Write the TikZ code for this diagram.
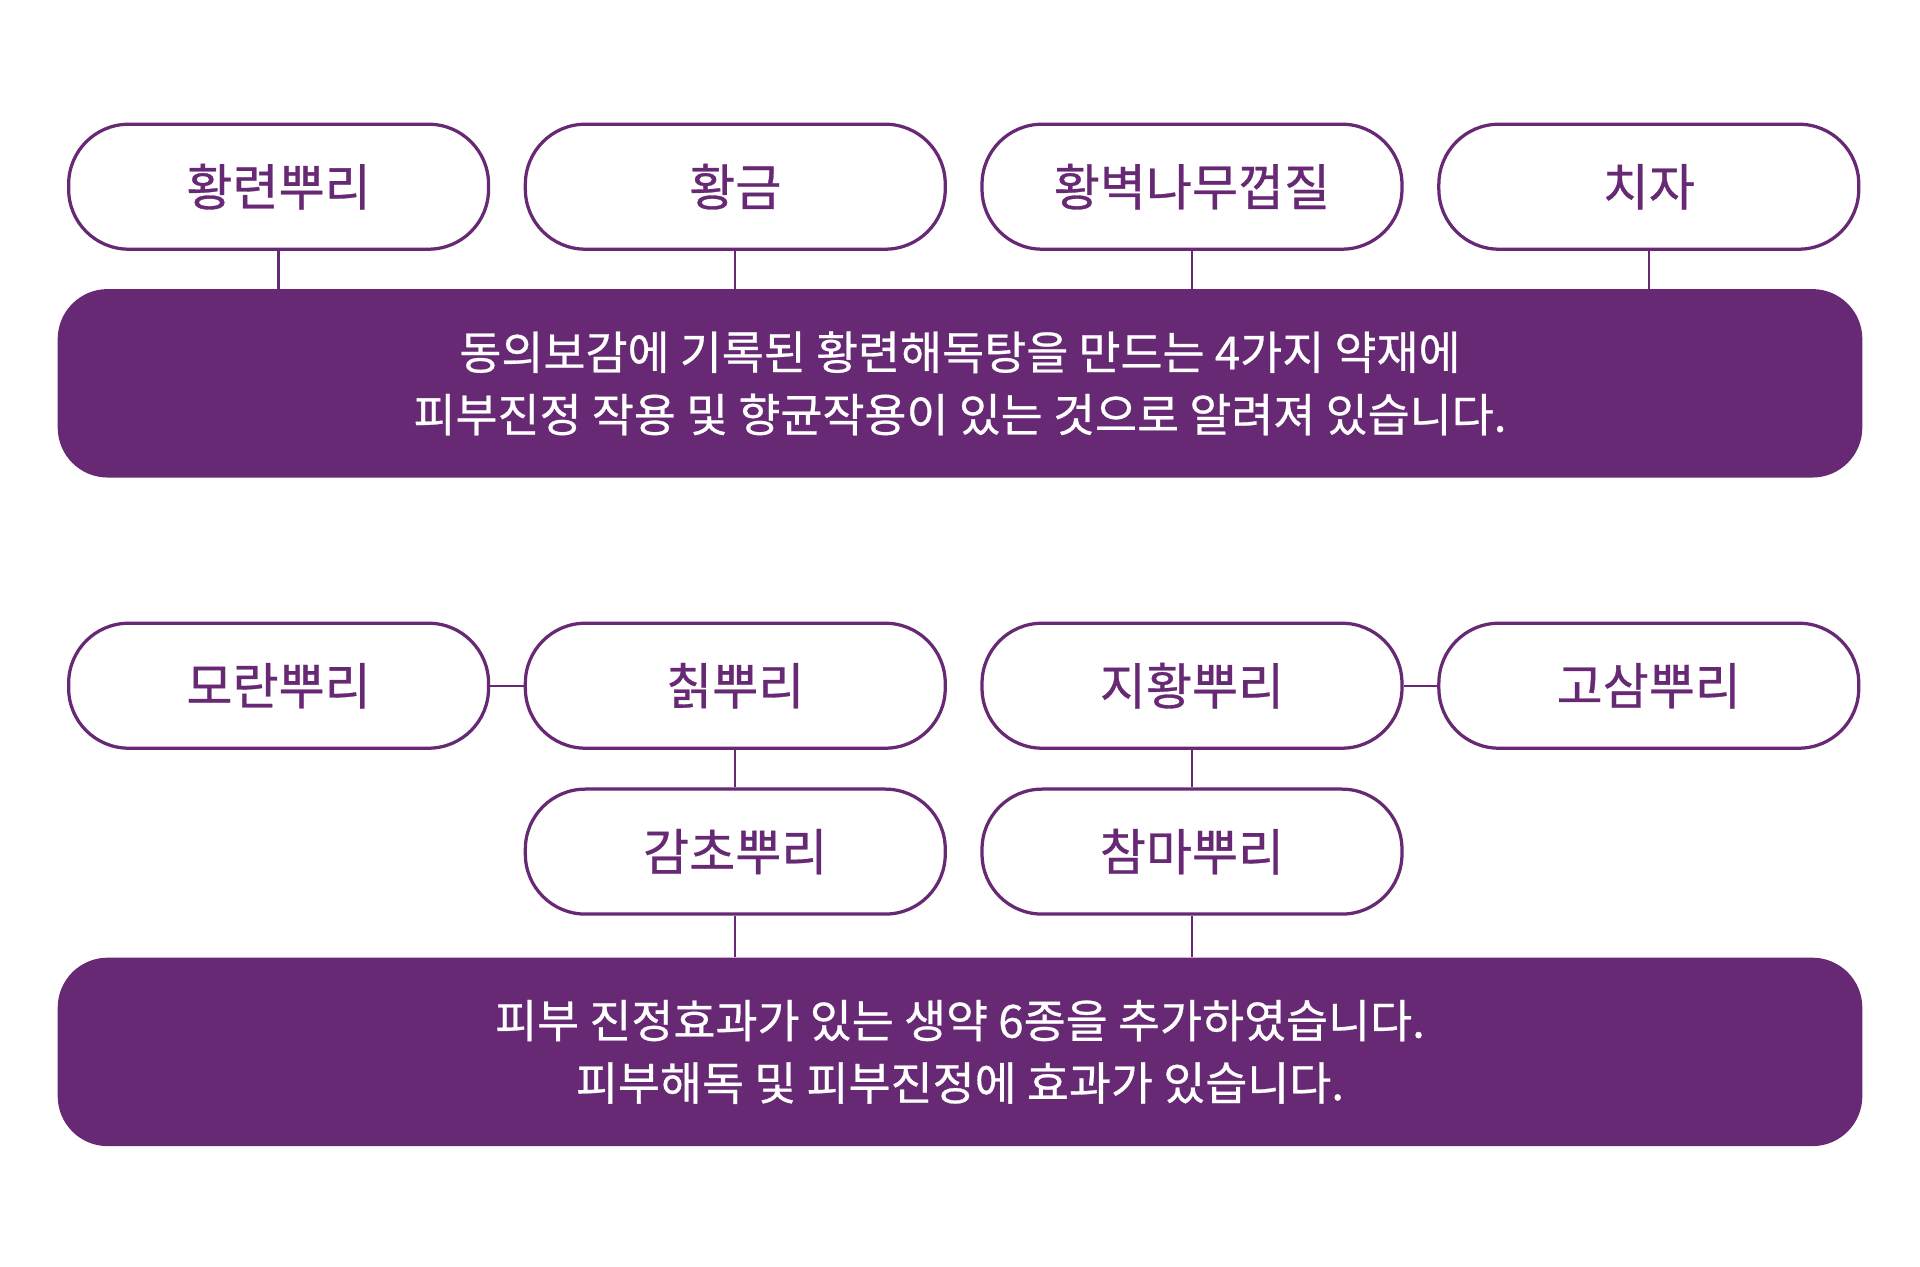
\documentclass[tikz,border=0pt]{standalone}
\usepackage{fontspec}
\setmainfont{Noto Sans CJK KR}[FakeBold=0.6]
\usetikzlibrary{positioning}
\definecolor{herbpurple}{RGB}{103,40,116}

\begin{document}
\begin{tikzpicture}[x=0.02cm,y=-0.02cm,
  herb/.style={draw=herbpurple,line width=0.065cm,fill=white,text=herbpurple,
    minimum width=8.4cm,minimum height=2.5cm,rounded corners=1.2cm,
    font=\fontsize{28.5}{32}\selectfont},
  summary/.style={fill=herbpurple,text=white,minimum width=36.1cm,
    minimum height=3.77cm,rounded corners=1cm,align=center,
    font=\fontsize{26}{35.5}\selectfont},
  link/.style={draw=herbpurple,line width=0.045cm}]
\useasboundingbox (0,0) rectangle (1920,1267);

% first group
\node[herb] (hwangryeon) at (278.6,186.7) {황련뿌리};
\node[herb] (hwanggeum)  at (735.3,186.7) {황금};
\node[herb] (hwangbyeok) at (1192,186.7)  {황벽나무껍질};
\node[herb] (chija)      at (1648.8,186.7) {치자};
\node[summary] (sumA) at (960,383.3)
  {동의보감에 기록된 황련해독탕을 만드는 4가지 약재에\\
   피부진정 작용 및 향균작용이 있는 것으로 알려져 있습니다.};

% second group
\node[herb] (moran)   at (278.6,685.7) {모란뿌리};
\node[herb] (chik)    at (735.3,685.7) {칡뿌리};
\node[herb] (jihwang) at (1192,685.7)  {지황뿌리};
\node[herb] (gosam)   at (1648.8,685.7) {고삼뿌리};
\node[herb] (gamcho)  at (735.3,851.6) {감초뿌리};
\node[herb] (chamma)  at (1192,851.6)  {참마뿌리};
\node[summary] (sumB) at (960,1051.9)
  {피부 진정효과가 있는 생약 6종을 추가하였습니다.\\
   피부해독 및 피부진정에 효과가 있습니다.};

\foreach \n in {hwangryeon,hwanggeum,hwangbyeok,chija}
  \draw[link] (\n.south) -- (\n.south |- sumA.north);
\draw[link] (moran) -- (chik);
\draw[link] (jihwang) -- (gosam);
\draw[link] (chik) -- (gamcho);
\draw[link] (jihwang) -- (chamma);
\draw[link] (gamcho.south) -- (gamcho.south |- sumB.north);
\draw[link] (chamma.south) -- (chamma.south |- sumB.north);
\end{tikzpicture}
\end{document}
